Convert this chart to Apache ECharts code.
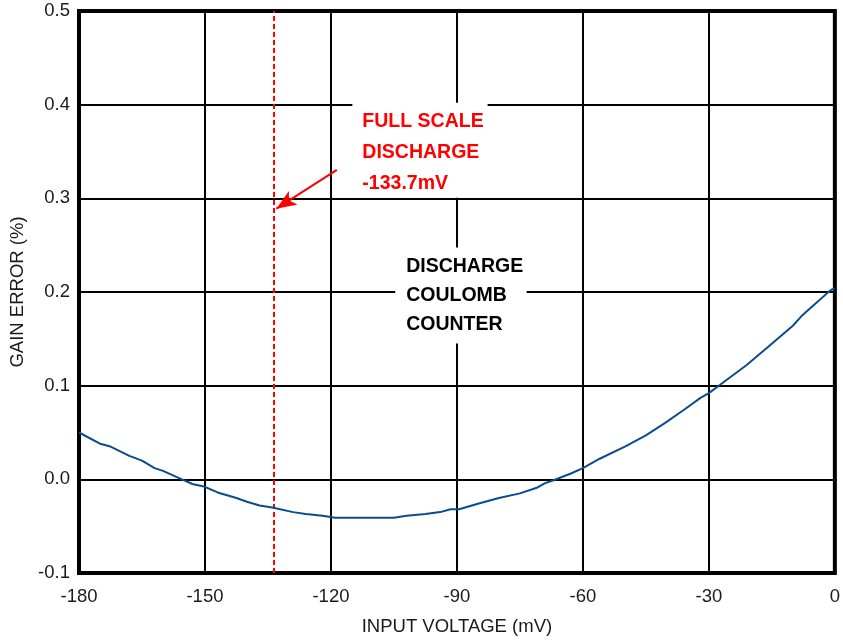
<!DOCTYPE html>
<html>
<head>
<meta charset="utf-8">
<script src="https://cdn.jsdelivr.net/npm/echarts@6/dist/echarts.min.js"></script>
<style>
html,body{margin:0;padding:0;background:#fff;}
#chart{width:843px;height:641px;}
</style>
</head>
<body>
<div id="chart"></div>
<script>
// Input voltage (mV)
const inputVoltage = [-180, -175, -172.5, -168, -165, -162, -160, -155.5, -153, -150, -147, -142.5, -140, -137, -134, -129, -126, -122, -119, -105, -102, -97.5, -94, -91.5, -89.5, -85, -80, -75, -71, -69, -67, -63, -60, -56, -50, -45, -40.5, -36, -32, -30, -27, -21, -16, -10, -8, -5, -1, 0];
// Gain error (%)
const gainError = [0.050, 0.038, 0.035, 0.025, 0.020, 0.012, 0.009, 0.000, -0.005, -0.008, -0.014, -0.020, -0.024, -0.028, -0.030, -0.035, -0.037, -0.039, -0.041, -0.041, -0.039, -0.037, -0.035, -0.032, -0.032, -0.026, -0.020, -0.015, -0.009, -0.004, -0.001, 0.006, 0.012, 0.022, 0.035, 0.047, 0.060, 0.074, 0.087, 0.092, 0.102, 0.122, 0.141, 0.164, 0.174, 0.186, 0.202, 0.204];
const xTicks = [-180, -150, -120, -90, -60, -30, 0];
const yTicks = [-0.1, 0.0, 0.1, 0.2, 0.3, 0.4, 0.5];
const fullScaleDischarge = -133.7;
const noteFullScale = ['FULL SCALE', 'DISCHARGE', '-133.7mV'];
const noteCounter = ['DISCHARGE', 'COULOMB', 'COUNTER'];
// annotation boxes in data units [x1, y1, x2, y2]
const fullScaleBox = [-114.9, 0.402, -82.7, 0.3006];
const counterBox = [-104.7, 0.2476, -73.4, 0.1449];
// arrow from [x,y] to [x,y]
const arrowFrom = [-118.6, 0.3303];
const arrowTo = [-133.0, 0.2890];

const FONT = '"Liberation Sans", Arial, sans-serif';
const seriesData = inputVoltage.map((v, i) => [v, gainError[i]]);

const chart = echarts.init(document.getElementById('chart'), null, {renderer: 'canvas'});
chart.setOption({
  animation: false,
  backgroundColor: '#fff',
  grid: {
    left: 79, right: 4, top: 11, bottom: 68,
    show: true, borderColor: '#000', borderWidth: 4, backgroundColor: '#fff',
    containLabel: false
  },
  xAxis: {
    type: 'value',
    min: xTicks[0], max: xTicks[xTicks.length - 1], interval: 30,
    name: 'INPUT VOLTAGE (mV)', nameLocation: 'middle', nameGap: 44,
    nameTextStyle: {fontFamily: FONT, fontSize: 18.5, color: '#1a1a1a'},
    axisLine: {show: false},
    axisTick: {show: false},
    axisLabel: {fontFamily: FONT, fontSize: 18.5, color: '#1a1a1a', margin: 14},
    splitLine: {show: true, lineStyle: {color: '#000', width: 2}}
  },
  yAxis: {
    type: 'value',
    min: yTicks[0], max: yTicks[yTicks.length - 1], interval: 0.1,
    name: 'GAIN ERROR (%)', nameLocation: 'middle', nameGap: 50,
    nameTextStyle: {fontFamily: FONT, fontSize: 18.5, color: '#1a1a1a'},
    axisLine: {show: false},
    axisTick: {show: false},
    axisLabel: {fontFamily: FONT, fontSize: 18.5, color: '#1a1a1a', margin: 9,
      padding: [5, 0, 0, 0],
      formatter: v => v.toFixed(1)},
    splitLine: {show: true, lineStyle: {color: '#000', width: 2}}
  },
  series: [{
    type: 'line',
    data: seriesData,
    showSymbol: false,
    symbol: 'none',
    lineStyle: {color: '#0b4c8c', width: 2},
    z: 5,
    markLine: {
      silent: true,
      symbol: ['none', 'none'],
      label: {show: false},
      data: [
        [{xAxis: fullScaleDischarge, yAxis: yTicks[0]}, {xAxis: fullScaleDischarge, yAxis: yTicks[yTicks.length - 1]}],
        [{coord: arrowFrom, symbol: 'none', lineStyle: {type: 'solid', width: 2}},
         {coord: arrowTo, symbol: 'arrow', symbolSize: [12, 20]}]
      ],
      lineStyle: {color: '#ff0000', type: [5, 3], width: 2}
    },
    markArea: {
      silent: true,
      itemStyle: {color: '#fff'},
      data: [
        [{coord: [fullScaleBox[0], fullScaleBox[1]],
          label: {show: true, position: [10, 3], formatter: noteFullScale.join('\n'),
            color: '#ff0000', fontFamily: FONT, fontWeight: 'bold', fontSize: 19.5, lineHeight: 31, align: 'left', verticalAlign: 'top'}},
         {coord: [fullScaleBox[2], fullScaleBox[3]]}],
        [{coord: [counterBox[0], counterBox[1]],
          label: {show: true, position: [11, 5], formatter: noteCounter.join('\n'),
            color: '#000', fontFamily: FONT, fontWeight: 'bold', fontSize: 19.5, lineHeight: 29, align: 'left', verticalAlign: 'top'}},
         {coord: [counterBox[2], counterBox[3]]}]
      ]
    }
  }]
});
</script>
</body>
</html>
